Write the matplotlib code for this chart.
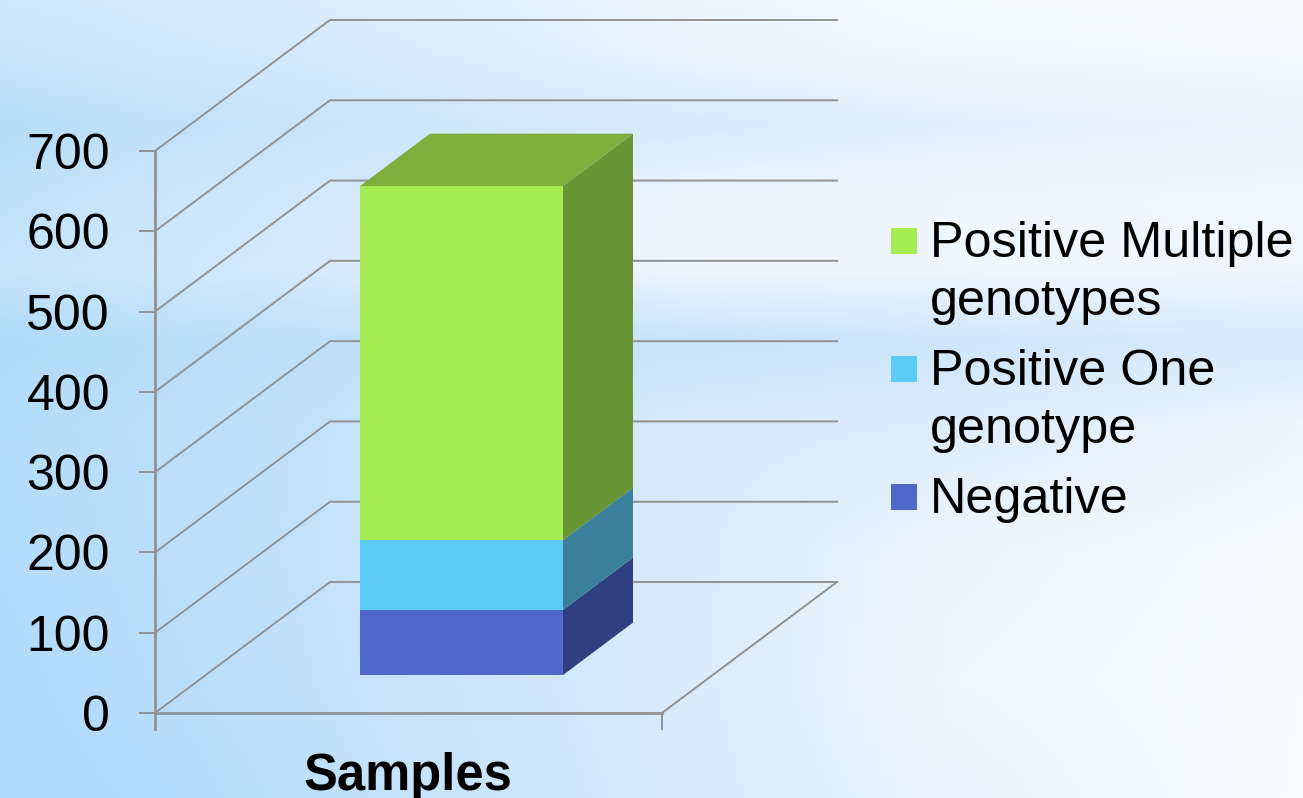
import numpy as np
import matplotlib
matplotlib.use("Agg")
import matplotlib.pyplot as plt
from matplotlib.colors import to_rgb
from matplotlib.patches import Polygon, Rectangle

W, H = 1303, 798

series_names = ["Negative", "Positive One\ngenotype", "Positive Multiple\ngenotypes"]
series_values = [81, 87, 441]
front_colors = ["#4f68c9", "#5ccbf5", "#a6ec52"]
side_colors = ["#303f80", "#3b809c", "#6a9534"]
top_color = "#80ae3c"
category = "Samples"
y_ticks = [0, 100, 200, 300, 400, 500, 600, 700]

plt.rcParams["font.family"] = ["Liberation Sans", "DejaVu Sans"]
fig = plt.figure(figsize=(W / 100, H / 100), dpi=100)

# Sky-blue backdrop: control colours blended across the canvas
bg = fig.add_axes([0, 0, 1, 1], zorder=0)
bg.axis("off")
sky_x = [0, 150, 300, 500, 700, 950, 1303]
sky_y = [0, 50, 125, 195, 270, 340, 425, 550, 680, 798]
sky_rows = [
    ["#cfe8fb", "#d4eafc", "#d9edfc", "#e2f1fd", "#eef6fe", "#f6fbff", "#f8fbff"],
    ["#c8e5fb", "#cfe8fb", "#d4eafc", "#dfeffc", "#ebf4fd", "#f2f8fe", "#f6fafe"],
    ["#b6ddf8", "#c0e1f9", "#c8e4fa", "#d2e8fb", "#d8ebfb", "#e2effb", "#eaf3fc"],
    ["#bfe1fa", "#cae5fb", "#d2e9fb", "#e0effc", "#ecf5fe", "#eff6fe", "#f2f8fe"],
    ["#c6e4fa", "#cde8fc", "#d5eafc", "#e4f1fd", "#eff6fe", "#eef6fe", "#f0f7fe"],
    ["#b0dbf7", "#b8def8", "#bfe0f9", "#c5e2fa", "#c8e3fa", "#cfe6fa", "#d8eafb"],
    ["#b6ddf9", "#bcdffa", "#c2e2fa", "#cfe6fb", "#d8ebfb", "#dcedfb", "#eef6fe"],
    ["#b4dcfa", "#bbdffa", "#c3e2fa", "#d0e7fb", "#daecfc", "#ecf5fe", "#f8fbff"],
    ["#b0dbfa", "#b9defa", "#c1e1fa", "#cee6fb", "#daecfc", "#f0f7fe", "#f9fcff"],
    ["#aedafa", "#b4dcfa", "#bde0fa", "#cbe5fb", "#d8ebfc", "#eaf4fe", "#fafcff"],
]
sky_ctrl = np.array([[to_rgb(c) for c in row] for row in sky_rows])
by_column = np.stack([
    np.stack([np.interp(np.arange(H), sky_y, sky_ctrl[:, k, c]) for c in range(3)], axis=-1)
    for k in range(len(sky_x))
], axis=1)
sky = np.stack([
    np.stack([np.interp(np.arange(W), sky_x, by_column[r, :, c]) for c in range(3)], axis=-1)
    for r in range(H)
])
bg.imshow(sky, extent=(0, 1, 0, 1), aspect="auto", interpolation="bilinear",
          transform=bg.transAxes)

# Front plane of the plot: 0-700 on y, one category on x
ax = fig.add_axes([155 / W, 1 - 713 / H, (662 - 155) / W, (713 - 151) / H], zorder=1)
ax.patch.set_alpha(0)
ax.set_xlim(0, 1)
ax.set_ylim(0, 700)
ax.axis("off")

px_x = 1 / (662 - 155)
px_y = 700 / (713 - 151)
depth_x = 175 * px_x
depth_y = 131 * px_y
end_x = 1 + depth_x
grid_color = "#909294"
grid_lw = 1.4
axis_lw = 2.0


def project(x, v, depth):
    return x + depth * depth_x, v + depth * depth_y


# Walls and floor
for v in y_ticks:
    x0, y0 = project(0, v, 0)
    x1, y1 = project(0, v, 1)
    ax.plot([x0, x1, end_x], [y0, y1, y1], color=grid_color, lw=grid_lw, clip_on=False)
    ax.plot([x0 - 15 * px_x, x0], [y0, y0], color=grid_color, lw=grid_lw, clip_on=False)
    ax.text(-45 * px_x, v, str(v), ha="right", va="center_baseline", fontsize=36, clip_on=False)
ax.plot([0, 0], [0, 700], color=grid_color, lw=axis_lw, clip_on=False)
ax.plot([0, 1], [0, 0], color=grid_color, lw=axis_lw, clip_on=False)
ax.plot([1, end_x], [0, depth_y], color=grid_color, lw=grid_lw, clip_on=False)
for x in (0, 1):
    ax.plot([x, x], [0, -16 * px_y], color=grid_color, lw=axis_lw if x == 0 else grid_lw, clip_on=False)
ax.text((408 - 155) * px_x, (713 - 790) * px_y, category, ha="center", va="baseline", fontsize=36.5,
        fontweight="bold", clip_on=False)

# Stacked bar with its side and top faces
bar_depth = 0.29
bar_thick = 0.4
bar_left = (360 - 155) * px_x - bar_depth * depth_x
bar_right = (563 - 155) * px_x - bar_depth * depth_x
base = 0.0
for value, front, side in zip(series_values, front_colors, side_colors):
    corners = [(bar_left, base), (bar_right, base), (bar_right, base + value), (bar_left, base + value)]
    pts = [project(x, v, bar_depth) for x, v in corners]
    ax.add_patch(Polygon(pts, closed=True, fc=front, ec="none", zorder=4, clip_on=False))
    side_pts = [project(bar_right, base, bar_depth),
                project(bar_right, base, bar_depth + bar_thick),
                project(bar_right, base + value, bar_depth + bar_thick),
                project(bar_right, base + value, bar_depth)]
    ax.add_patch(Polygon(side_pts, closed=True, fc=side, ec="none", zorder=4, clip_on=False))
    base += value
top_pts = [project(bar_left, base, bar_depth), project(bar_right, base, bar_depth),
           project(bar_right, base, bar_depth + bar_thick), project(bar_left, base, bar_depth + bar_thick)]
ax.add_patch(Polygon(top_pts, closed=True, fc=top_color, ec="none", zorder=4, clip_on=False))

# Legend, listed from the top of the stack downwards
overlay = fig.add_axes([0, 0, 1, 1], zorder=2)
overlay.patch.set_alpha(0)
overlay.axis("off")
overlay.set_xlim(0, W)
overlay.set_ylim(H, 0)
legend_rows = [(2, 257, 241), (1, 385, 369), (0, 513, 497)]
line_step = 58
for idx, baseline, swatch_y in legend_rows:
    overlay.add_patch(Rectangle((891, swatch_y - 13), 26, 26, fc=front_colors[idx], ec="none"))
    for n, line in enumerate(series_names[idx].split("\n")):
        overlay.text(930, baseline + n * line_step, line, ha="left", va="baseline", fontsize=36.3)

fig.savefig("out.png", dpi=100)
